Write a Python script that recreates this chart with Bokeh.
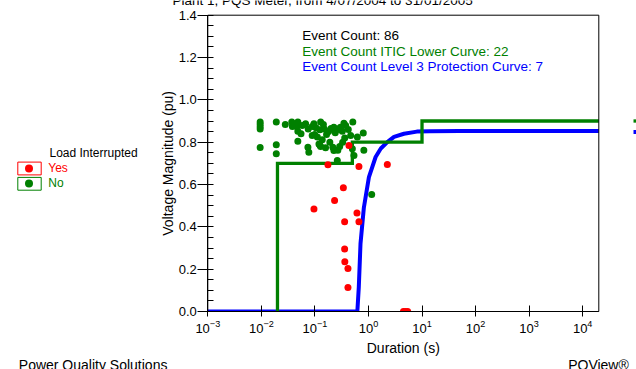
import math
from bokeh.plotting import figure
from bokeh.models import (Label, Legend, LegendItem, FixedTicker, BoxAnnotation,
                          PrintfTickFormatter)
from bokeh.embed import file_html
from bokeh.resources import INLINE

FONT = "Liberation Sans"
GREEN = "#008000"
RED = "#ff0000"
BLUE = "#0000ff"

title_text = "Plant 1, PQS Meter, from 4/07/2004 to 31/01/2005"
x_ticks = [1e-3, 1e-2, 1e-1, 1e0, 1e1, 1e2, 1e3, 1e4]
y_ticks = [0.0, 0.2, 0.4, 0.6, 0.8, 1.0, 1.2, 1.4]
x_bounds = (1e-3, 2e4)     # plotted duration span (s)
y_bounds = (0.0, 1.4)      # plotted magnitude span (pu)

# ITIC lower curve (duration s, magnitude pu)
itic_x = [0.02, 0.02, 0.5, 0.5, 10, 10, 20000]
itic_y = [0.0, 0.7, 0.7, 0.8, 0.8, 0.9, 0.9]

# Level 3 protection curve
prot_x = [0.001, 0.62, 0.66, 0.71, 0.82, 1.02, 1.36, 1.7, 2.25, 3.0, 4.6, 8, 14, 50, 20000]
prot_y = [0.0, 0.0, 0.115, 0.32, 0.49, 0.635, 0.73, 0.77, 0.80, 0.825, 0.84, 0.85, 0.852, 0.853, 0.853]

# Events: load not interrupted ("No")
no_dur = [0.0095, 0.0095, 0.0095, 0.0095, 0.0095, 0.019, 0.019, 0.019, 0.028, 0.037,
          0.038, 0.046, 0.048, 0.048, 0.058, 0.067, 0.089, 0.096, 0.128, 0.144,
          0.124, 0.089, 0.099, 0.165, 0.111, 0.137, 0.048, 0.119, 0.124, 0.158,
          0.074, 0.077, 0.226, 0.254, 0.281, 0.325, 0.348, 0.375, 0.51, 0.465,
          0.62, 0.80, 0.128, 0.216, 0.226, 0.268, 0.50, 0.536, 0.82, 0.262,
          1.15, 0.105, 0.18, 0.20, 0.24, 0.30, 0.15, 0.075, 0.055, 0.36,
          0.42, 0.19, 0.29, 0.33]
no_mag = [0.895, 0.885, 0.873, 0.862, 0.775, 0.895, 0.788, 0.745, 0.884, 0.895,
          0.874, 0.874, 0.895, 0.852, 0.879, 0.887, 0.874, 0.887, 0.895, 0.884,
          0.859, 0.832, 0.836, 0.836, 0.824, 0.811, 0.805, 0.792, 0.786, 0.774,
          0.776, 0.753, 0.871, 0.859, 0.863, 0.852, 0.890, 0.879, 0.895, 0.832,
          0.824, 0.843, 0.780, 0.776, 0.761, 0.762, 0.769, 0.737, 0.762, 0.714,
          0.553, 0.868, 0.850, 0.865, 0.845, 0.870, 0.862, 0.862, 0.840, 0.820,
          0.860, 0.800, 0.780, 0.800]

# Events: load interrupted ("Yes")
yes_dur = [0.175, 0.432, 0.664, 2.25, 0.34, 0.233, 0.096, 0.61, 0.664, 0.359,
           0.359, 0.362, 0.414, 0.414, 4.5, 4.9, 5.4]
yes_mag = [0.693, 0.784, 0.685, 0.695, 0.585, 0.525, 0.484, 0.465, 0.424, 0.424,
           0.295, 0.235, 0.203, 0.113, 0.0, 0.0, 0.0]

event_lines = ["Event Count: 86", "Event Count ITIC Lower Curve: 22",
               "Event Count Level 3 Protection Curve: 7"]
event_colors = ["black", GREEN, BLUE]
legend_title = "Load Interrupted"
x_label = "Duration (s)"
y_label = "Voltage Magnitude (pu)"
footer_left = "Power Quality Solutions"
footer_right = "PQView®"

W, H = 636, 369
# plot box in canvas pixels: left/right/top/bottom
BOX_L, BOX_R, BOX_T, BOX_B = 207.3, 598.3, 14.7, 311.0
# extend the ranges so that the whole canvas is the frame and the box sits where the original has it
dec_px = (BOX_R - BOX_L) / (math.log10(x_bounds[1]) - math.log10(x_bounds[0]))
x_lo = 10 ** (math.log10(x_bounds[0]) - BOX_L / dec_px)
x_hi = 10 ** (math.log10(x_bounds[1]) + (W - BOX_R) / dec_px)
unit_px = (BOX_B - BOX_T) / (y_bounds[1] - y_bounds[0])
y_lo = y_bounds[0] - (H - BOX_B) / unit_px
y_hi = y_bounds[1] + BOX_T / unit_px

p = figure(width=W, height=H, x_axis_type="log", x_range=(x_lo, x_hi),
           y_range=(y_lo, y_hi), output_backend="svg", toolbar_location=None,
           min_border_left=0, min_border_right=0, min_border_top=0,
           min_border_bottom=0)
p.grid.visible = False
p.outline_line_color = None

# axes drawn at the box edges
p.xaxis.fixed_location = y_bounds[0]
p.xaxis.bounds = x_bounds
p.xaxis.ticker = FixedTicker(ticks=x_ticks)
p.xaxis.major_tick_in = 6
p.xaxis.major_tick_out = 5
p.xaxis.minor_tick_line_color = None
p.xaxis.major_label_standoff = 3

minor_y = [round(0.05 * i, 2) for i in range(29) if i % 4]
p.yaxis.fixed_location = x_bounds[0]
p.yaxis.bounds = y_bounds
p.yaxis.ticker = FixedTicker(ticks=y_ticks, minor_ticks=minor_y)
p.yaxis.formatter = PrintfTickFormatter(format="%.1f")
p.yaxis.major_tick_in = 6
p.yaxis.major_tick_out = 10
p.yaxis.minor_tick_in = 6
p.yaxis.minor_tick_out = 0
p.yaxis.minor_tick_line_color = "black"
p.yaxis.major_label_standoff = 1

for ax in (p.xaxis, p.yaxis):
    ax.axis_line_color = "black"
    ax.major_tick_line_color = "black"
    ax.major_label_text_font = FONT
    ax.major_label_text_font_size = "13px"
    ax.major_label_text_color = "black"

# box around the plot area
p.add_layout(BoxAnnotation(left=x_bounds[0], right=x_bounds[1], bottom=y_bounds[0],
                           top=y_bounds[1], fill_alpha=0, line_color="black",
                           line_alpha=1, line_width=1))

# curves and events
prot_r = p.line(prot_x, prot_y, line_color=BLUE, line_width=4, line_join="round")
itic_r = p.line(itic_x, itic_y, line_color=GREEN, line_width=3.3, line_join="miter")
no_r = p.scatter(no_dur, no_mag, marker="circle", size=7, fill_color=GREEN, line_color=None)
yes_r = p.scatter(yes_dur, yes_mag, marker="circle", size=7, fill_color=RED, line_color=None)

# the original clips marks at the plot box bottom: mask the strip just under the axis
p.add_layout(BoxAnnotation(left=x_bounds[0], right=x_bounds[1], top=y_bounds[0],
                           bottom=y_bounds[0] - 5 / unit_px, fill_color="white",
                           fill_alpha=1, line_alpha=0, level="glyph"))


def text(x, y, s, color="black", size=13.5, **kw):
    # x from canvas left, y = desired baseline from canvas top
    shift = 0.33 * size
    ang = kw.get("angle", 0)
    if ang:
        x -= shift
    else:
        y -= shift
    p.add_layout(Label(x=x, y=H - y, x_units="screen", y_units="screen", text=s,
                       text_font=FONT, text_font_size=f"{size}px", text_color=color,
                       text_baseline="alphabetic", **kw))


text(172, 4.5, title_text)
for i, (t, c) in enumerate(zip(event_lines, event_colors)):
    text(301.7, 39.3 + 15.7 * i, t, color=c)
text((BOX_L + BOX_R) / 2, 351.7, x_label, size=14, text_align="center")
text(172.5, (BOX_T + BOX_B) / 2, y_label, size=14, text_align="center",
     angle=math.pi / 2)
text(18.3, 369.3, footer_left, size=14)
text(628.3, 369.3, footer_right, size=14, text_align="right")

# legend (Load Interrupted)
text(49, 156.7, legend_title, size=12)
for lab, col, rend, cy in [("Yes", RED, yes_r, 168.0), ("No", GREEN, no_r, 183.3)]:
    p.add_layout(BoxAnnotation(left=17.3, right=40.7, top=H - (cy - 6.4),
                               bottom=H - (cy + 6.4), left_units="screen",
                               right_units="screen", top_units="screen",
                               bottom_units="screen", fill_alpha=0, line_color=col,
                               line_alpha=1, line_width=1))
    p.add_layout(Legend(items=[LegendItem(label=lab, renderers=[rend])],
                        location=(17.3, H - (cy + 10)), glyph_width=23, glyph_height=20,
                        label_height=20, label_standoff=8, padding=0, margin=0,
                        spacing=0, border_line_color=None, background_fill_alpha=0,
                        label_text_font=FONT, label_text_font_size="12px",
                        label_text_color=col))

# curve legend at the right edge (mostly outside the picture, as in the original)
p.add_layout(Legend(items=[LegendItem(label="", renderers=[itic_r]),
                           LegendItem(label="", renderers=[prot_r])],
                    location=(633, H - 136.5), glyph_width=20, glyph_height=11,
                    label_height=11, padding=0, margin=0, spacing=0,
                    border_line_color=None, background_fill_alpha=0))

open("out.html", "w").write(file_html(p, INLINE))
